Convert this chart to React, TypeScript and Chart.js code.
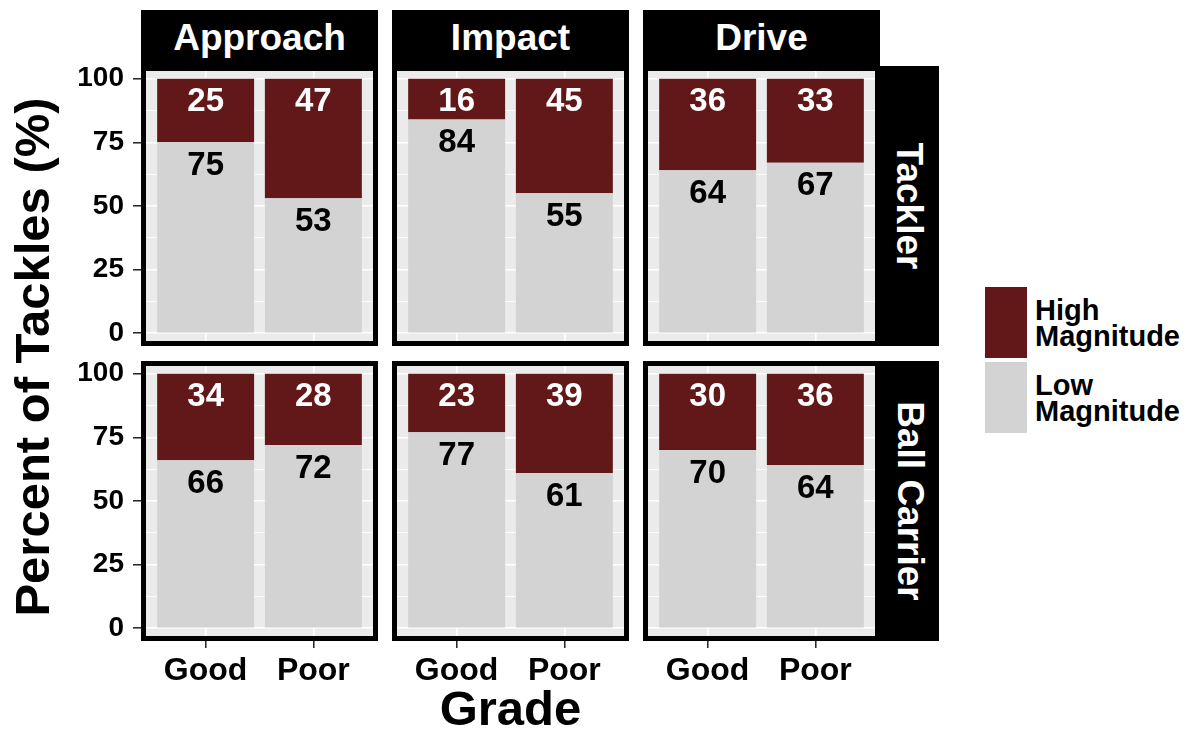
import React, { useEffect, useRef } from 'react';
import { Chart, registerables } from 'chart.js';

Chart.register(...registerables);

// ---------- data ----------
const grades = ['Good', 'Poor'];
const phases = ['Approach', 'Impact', 'Drive'];
const roles = ['Tackler', 'Ball Carrier'];
const seriesNames = ['High Magnitude', 'Low Magnitude'];

// [phase][grade]
const tacklerHigh = [[25, 47], [16, 45], [36, 33]];
const tacklerLow = [[75, 53], [84, 55], [64, 67]];
const carrierHigh = [[34, 28], [23, 39], [30, 36]];
const carrierLow = [[66, 72], [77, 61], [70, 64]];

const yTickLabels = [0, 25, 50, 75, 100];
const yMinorGrid = [12.5, 37.5, 62.5, 87.5];

// ---------- styles / layout ----------
const HIGH_COLOR = '#621818';
const LOW_COLOR = '#D3D3D3';
const PANEL_BG = '#EBEBEB';
const FONT = '"Liberation Sans", Arial, sans-serif';

const COL_LEFT = [141, 392, 643];
const ROW_TOP = [66, 361];
const PANEL_W = 237;
const PANEL_H = 280;
const Y_AXIS_W = 81;
const X_AXIS_H = 64;
const PAD_TOP = 20;
const LABEL_OFFSET = 23.5;

const panelPlugin = {
  id: 'panelDecor',
  beforeDraw(chart: any) {
    const { ctx, chartArea } = chart;
    ctx.save();
    ctx.fillStyle = PANEL_BG;
    ctx.fillRect(chartArea.left, chartArea.top, chartArea.right - chartArea.left, chartArea.bottom - chartArea.top);
    ctx.restore();
  },
  afterDatasetsDraw(chart: any) {
    const ctx = chart.ctx;
    ctx.save();
    ctx.font = `bold 33px ${FONT}`;
    ctx.textAlign = 'center';
    ctx.textBaseline = 'middle';
    chart.data.datasets.forEach((ds: any, di: number) => {
      const meta = chart.getDatasetMeta(di);
      meta.data.forEach((bar: any, i: number) => {
        const v = ds.data[i].y;
        ctx.fillStyle = ds.label === seriesNames[0] ? '#FFFFFF' : '#000000';
        ctx.fillText(String(v), bar.x, bar.y + LABEL_OFFSET);
      });
    });
    ctx.restore();
  },
  afterDraw(chart: any) {
    const { ctx, chartArea } = chart;
    ctx.save();
    ctx.lineWidth = 5;
    ctx.strokeStyle = '#000';
    ctx.strokeRect(chartArea.left + 2.5, chartArea.top + 2.5, chartArea.right - chartArea.left - 5, chartArea.bottom - chartArea.top - 5);
    ctx.restore();
  },
};

function Panel({ row, col }: { row: number; col: number }) {
  const ref = useRef<HTMLCanvasElement>(null);
  const width = Y_AXIS_W + PANEL_W;
  const height = PAD_TOP + PANEL_H + X_AXIS_H;

  useEffect(() => {
    const high = (row === 0 ? tacklerHigh : carrierHigh)[col];
    const low = (row === 0 ? tacklerLow : carrierLow)[col];
    const showY = col === 0;
    const showX = row === roles.length - 1;
    const isMajor = (v: number) => yTickLabels.includes(v);

    const chart = new Chart(ref.current as HTMLCanvasElement, {
      type: 'bar',
      data: {
        datasets: [
          {
            label: seriesNames[1],
            data: grades.map((_, i) => ({ x: i + 1, y: low[i] })),
            backgroundColor: LOW_COLOR,
          },
          {
            label: seriesNames[0],
            data: grades.map((_, i) => ({ x: i + 1, y: high[i] })),
            backgroundColor: HIGH_COLOR,
          },
        ],
      } as any,
      options: {
        animation: false,
        responsive: false,
        devicePixelRatio: 1,
        layout: { padding: { top: PAD_TOP, left: 0, right: 0, bottom: 0 } },
        plugins: { legend: { display: false }, tooltip: { enabled: false }, title: { display: false } },
        datasets: { bar: { categoryPercentage: 0.9, barPercentage: 1, borderWidth: 0 } },
        scales: {
          x: {
            type: 'linear',
            stacked: true,
            offset: false,
            min: 0.4,
            max: 2.6,
            afterBuildTicks: (s: any) => {
              s.ticks = grades.map((_, i) => ({ value: i + 1 }));
            },
            afterFit: (s: any) => {
              s.height = X_AXIS_H;
              s.paddingLeft = 0;
              s.paddingRight = 0;
            },
            ticks: {
              display: showX,
              autoSkip: false,
              maxRotation: 0,
              padding: 4,
              color: '#000',
              font: { family: FONT, size: 32, weight: 'bold' },
              callback: (v: any) => grades[Number(v) - 1] ?? '',
            },
            grid: {
              offset: false,
              color: '#FFFFFF',
              lineWidth: 1.6,
              drawTicks: showX,
              tickLength: 7,
              tickColor: '#222',
              tickWidth: 1.5,
            },
            border: { display: false },
          },
          y: {
            type: 'linear',
            stacked: true,
            min: -5,
            max: 105,
            afterBuildTicks: (s: any) => {
              s.ticks = [...yTickLabels, ...yMinorGrid].sort((a, b) => a - b).map((v) => ({ value: v }));
            },
            afterFit: (s: any) => {
              s.width = Y_AXIS_W;
              s.paddingTop = 0;
              s.paddingBottom = 0;
            },
            ticks: {
              display: showY,
              autoSkip: false,
              padding: 9,
              color: '#000',
              font: { family: FONT, size: 28, weight: 'bold' },
              callback: (v: any) => (isMajor(Number(v)) ? String(v) : ''),
            },
            grid: {
              color: '#FFFFFF',
              lineWidth: (c: any) => (isMajor(c.tick?.value) ? 1.6 : 0.8),
              drawTicks: showY,
              tickLength: 8,
              tickColor: (c: any) => (isMajor(c.tick?.value) ? '#222' : 'rgba(0,0,0,0)'),
              tickWidth: 1.5,
            },
            border: { display: false },
          },
        },
      } as any,
      plugins: [panelPlugin],
    });
    return () => chart.destroy();
  }, [row, col]);

  return (
    <canvas
      ref={ref}
      width={width}
      height={height}
      style={{
        position: 'absolute',
        left: COL_LEFT[col] - Y_AXIS_W,
        top: ROW_TOP[row] - PAD_TOP,
        width,
        height,
      }}
    />
  );
}

export default function App() {
  const right = COL_LEFT[2] + PANEL_W;
  return (
    <div
      style={{
        position: 'fixed',
        left: 0,
        top: 0,
        width: 1198,
        height: 738,
        background: '#fff',
        overflow: 'hidden',
        fontFamily: FONT,
        fontWeight: 'bold',
      }}
    >
      {phases.map((p, c) => (
        <div
          key={p}
          style={{
            position: 'absolute',
            left: COL_LEFT[c],
            top: 10,
            width: PANEL_W,
            height: ROW_TOP[0] - 10,
            background: '#000',
            color: '#fff',
            fontSize: 37,
            display: 'flex',
            alignItems: 'center',
            justifyContent: 'center',
          }}
        >
          {p}
        </div>
      ))}
      {roles.map((r, ri) => (
        <div
          key={r}
          style={{
            position: 'absolute',
            left: right,
            top: ROW_TOP[ri],
            width: 59,
            height: PANEL_H,
            background: '#000',
            color: '#fff',
            fontSize: 37,
            display: 'flex',
            alignItems: 'center',
            justifyContent: 'center',
          }}
        >
          <span style={{ display: 'inline-block', whiteSpace: 'nowrap', transform: 'rotate(90deg)' }}>{r}</span>
        </div>
      ))}
      {roles.map((r, ri) => phases.map((p, c) => <Panel key={r + p} row={ri} col={c} />))}

      <div
        style={{
          position: 'absolute',
          left: 32,
          top: 357,
          transform: 'translate(-50%, -50%) rotate(-90deg)',
          whiteSpace: 'nowrap',
          fontSize: 49,
          color: '#000',
        }}
      >
        Percent of Tackles (%)
      </div>
      <div
        style={{
          position: 'absolute',
          left: (COL_LEFT[0] + right) / 2,
          top: 708,
          transform: 'translate(-50%, -50%)',
          whiteSpace: 'nowrap',
          fontSize: 49,
          color: '#000',
        }}
      >
        Grade
      </div>

      {/* legend */}
      {[{ name: seriesNames[0], color: HIGH_COLOR, top: 287, lines: ['High', 'Magnitude'] }, { name: seriesNames[1], color: LOW_COLOR, top: 362, lines: ['Low', 'Magnitude'] }].map((k) => (
        <React.Fragment key={k.name}>
          <div style={{ position: 'absolute', left: 985, top: k.top, width: 42, height: 71, background: k.color }} />
          <div
            style={{
              position: 'absolute',
              left: 1035,
              top: k.top + 35.5,
              transform: 'translateY(-50%)',
              fontSize: 29,
              lineHeight: '26px',
              color: '#000',
              whiteSpace: 'nowrap',
            }}
          >
            {k.lines.map((l) => (
              <div key={l}>{l}</div>
            ))}
          </div>
        </React.Fragment>
      ))}
    </div>
  );
}
